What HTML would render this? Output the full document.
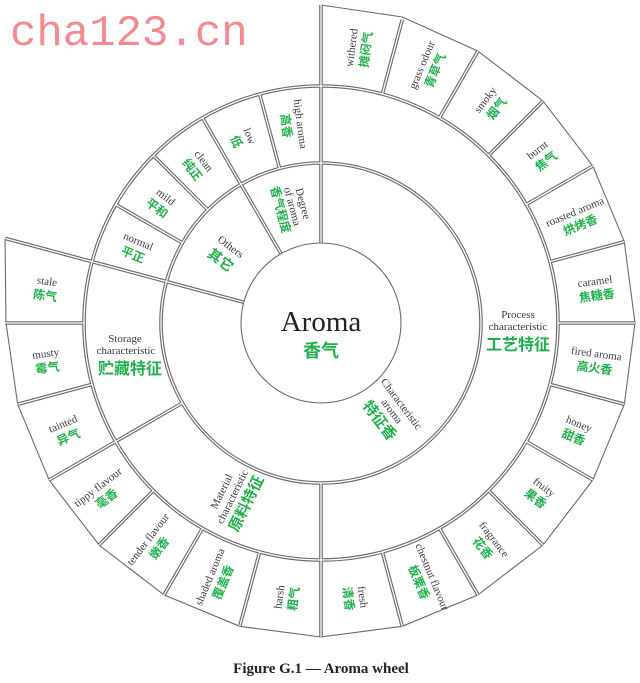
<!DOCTYPE html>
<html><head><meta charset="utf-8"><style>
html,body{margin:0;padding:0;background:#fff;}
svg{display:block;}
.en{font-family:"Liberation Serif",serif;font-size:11px;fill:#3a3a3a;text-anchor:middle;}
.zh{font-family:"Liberation Sans","Noto Sans CJK SC",sans-serif;font-size:12px;font-weight:bold;fill:#1fb04c;text-anchor:middle;}
.zb{font-family:"Liberation Sans","Noto Sans CJK SC",sans-serif;font-size:16px;font-weight:bold;fill:#1fb04c;text-anchor:middle;}
.dbl{fill:none;stroke:#6a6a6a;stroke-width:3.6;}
.dblw{fill:none;stroke:#fff;stroke-width:1.3;}
.sgl{fill:none;stroke:#6a6a6a;stroke-width:1.1;}
</style></head><body>
<svg width="640" height="683" viewBox="0 0 640 683" xmlns="http://www.w3.org/2000/svg">
<defs>
<g id="dl" fill="none">
<circle cx="321" cy="323" r="160"/>
<circle cx="321" cy="323" r="237"/>
<g transform="rotate(0 321 323)"><line x1="321" y1="243" x2="321" y2="5"/></g>
<g transform="rotate(15 321 323)"><line x1="321" y1="86" x2="321" y2="9"/></g>
<g transform="rotate(30 321 323)"><line x1="321" y1="86" x2="321" y2="9"/></g>
<g transform="rotate(45 321 323)"><line x1="321" y1="86" x2="321" y2="9"/></g>
<g transform="rotate(60 321 323)"><line x1="321" y1="86" x2="321" y2="9"/></g>
<g transform="rotate(75 321 323)"><line x1="321" y1="86" x2="321" y2="9"/></g>
<g transform="rotate(90 321 323)"><line x1="321" y1="86" x2="321" y2="9"/></g>
<g transform="rotate(105 321 323)"><line x1="321" y1="86" x2="321" y2="9"/></g>
<g transform="rotate(120 321 323)"><line x1="321" y1="86" x2="321" y2="9"/></g>
<g transform="rotate(135 321 323)"><line x1="321" y1="86" x2="321" y2="9"/></g>
<g transform="rotate(150 321 323)"><line x1="321" y1="86" x2="321" y2="9"/></g>
<g transform="rotate(165 321 323)"><line x1="321" y1="86" x2="321" y2="9"/></g>
<g transform="rotate(180 321 323)"><line x1="321" y1="163" x2="321" y2="9"/></g>
<g transform="rotate(195 321 323)"><line x1="321" y1="86" x2="321" y2="9"/></g>
<g transform="rotate(210 321 323)"><line x1="321" y1="86" x2="321" y2="9"/></g>
<g transform="rotate(225 321 323)"><line x1="321" y1="86" x2="321" y2="9"/></g>
<g transform="rotate(240 321 323)"><line x1="321" y1="163" x2="321" y2="9"/></g>
<g transform="rotate(255 321 323)"><line x1="321" y1="86" x2="321" y2="9"/></g>
<g transform="rotate(270 321 323)"><line x1="321" y1="86" x2="321" y2="7"/></g>
<g transform="rotate(285 321 323)"><line x1="321" y1="243" x2="321" y2="-4"/></g>
<g transform="rotate(300 321 323)"><line x1="321" y1="163" x2="321" y2="86"/></g>
<g transform="rotate(315 321 323)"><line x1="321" y1="163" x2="321" y2="86"/></g>
<g transform="rotate(330 321 323)"><line x1="321" y1="243" x2="321" y2="86"/></g>
<g transform="rotate(345 321 323)"><line x1="321" y1="163" x2="321" y2="86"/></g>
</g>
</defs>
<text x="10" y="45" style="font-family:'Liberation Mono',monospace;font-size:44px;fill:#f28a90">cha123.cn</text>

<path class="sgl" d="M321,5 L402.3,17 L478,51.1 L543,101 L592.9,166 L624.3,241.7 L635,323 L624.3,404.3 L592.9,480 L543,545 L478,594.9 L402.3,626.3 L321,637 L239.7,626.3 L164,594.9 L99,545 L49.1,480 L17.7,404.3 L6,323 L5,238.4"/>

<use href="#dl" class="dbl"/>
<use href="#dl" class="dblw"/>
<circle class="sgl" cx="321" cy="323" r="80" fill="#fff"/>

<text x="321" y="331" style="font-family:'Liberation Serif',serif;font-size:29px;fill:#222;text-anchor:middle">Aroma</text>
<text x="321" y="357" class="zb" style="font-size:18px">香气</text>

<text x="518" y="318" class="en">Process</text>
<text x="518" y="330" class="en">characteristic</text>
<text x="518" y="350" class="zb">工艺特征</text>
<text x="125" y="342" class="en">Storage</text>
<text x="126" y="354" class="en">characteristic</text>
<text x="130" y="374" class="zb">贮藏特征</text>

<g transform="translate(321,323) rotate(143) translate(0,-113) rotate(-90)">
<text x="0" y="-12" class="en">Characteristic</text>
<text x="0" y="0" class="en">aroma</text>
<text x="0" y="17" class="zb" style="font-size:15px">特征香</text>
</g>
<g transform="translate(321,323) rotate(206) translate(0,-195) rotate(90)">
<text x="0" y="-12" class="en">Material</text>
<text x="0" y="0" class="en">characteristic</text>
<text x="0" y="17" class="zb" style="font-size:15px">原料特征</text>
</g>
<g transform="translate(321,323) rotate(307) translate(0,-118) rotate(90)">
<text x="0" y="-3" class="en">Others</text>
<text x="0" y="15" class="zb" style="font-size:14px">其它</text>
</g>
<g transform="translate(321,323) rotate(345) translate(0,-120) rotate(90)">
<text x="0" y="-10" class="en">Degree</text>
<text x="0" y="1" class="en">of aroma</text>
<text x="0" y="14" class="zh">香气程度</text>
</g>

<g transform="translate(321,323) rotate(7.5) translate(0,-277) rotate(-90)"><text y="-2" class="en">withered</text><text y="13" class="zh">摊闷气</text></g>
<g transform="translate(321,323) rotate(22.5) translate(0,-277) rotate(-90)"><text y="-2" class="en">grass odour</text><text y="13" class="zh">青草气</text></g>
<g transform="translate(321,323) rotate(37.5) translate(0,-277) rotate(-90)"><text y="-2" class="en">smoky</text><text y="13" class="zh">烟气</text></g>
<g transform="translate(321,323) rotate(52.5) translate(0,-277) rotate(-90)"><text y="-2" class="en">burnt</text><text y="13" class="zh">焦气</text></g>
<g transform="translate(321,323) rotate(67.5) translate(0,-277) rotate(-90)"><text y="-2" class="en">roasted aroma</text><text y="13" class="zh">烘烤香</text></g>
<g transform="translate(321,323) rotate(82.5) translate(0,-277) rotate(-90)"><text y="-2" class="en">caramel</text><text y="13" class="zh">焦糖香</text></g>
<g transform="translate(321,323) rotate(97.5) translate(0,-277) rotate(-90)"><text y="-2" class="en">fired aroma</text><text y="13" class="zh">高火香</text></g>
<g transform="translate(321,323) rotate(112.5) translate(0,-277) rotate(-90)"><text y="-2" class="en">honey</text><text y="13" class="zh">甜香</text></g>
<g transform="translate(321,323) rotate(127.5) translate(0,-277) rotate(-90)"><text y="-2" class="en">fruity</text><text y="13" class="zh">果香</text></g>
<g transform="translate(321,323) rotate(142.5) translate(0,-277) rotate(-90)"><text y="-2" class="en">fragrance</text><text y="13" class="zh">花香</text></g>
<g transform="translate(321,323) rotate(157.5) translate(0,-277) rotate(-90)"><text y="-2" class="en">chestnut flavour</text><text y="13" class="zh">板栗香</text></g>
<g transform="translate(321,323) rotate(172.5) translate(0,-277) rotate(-90)"><text y="-2" class="en">fresh</text><text y="13" class="zh">清香</text></g>
<g transform="translate(321,323) rotate(187.5) translate(0,-277) rotate(90)"><text y="-2" class="en">harsh</text><text y="13" class="zh">粗气</text></g>
<g transform="translate(321,323) rotate(202.5) translate(0,-277) rotate(90)"><text y="-2" class="en">shaded aroma</text><text y="13" class="zh">覆盖香</text></g>
<g transform="translate(321,323) rotate(217.5) translate(0,-277) rotate(90)"><text y="-2" class="en">tender flavour</text><text y="13" class="zh">嫩香</text></g>
<g transform="translate(321,323) rotate(232.5) translate(0,-277) rotate(90)"><text y="-2" class="en">tippy flavour</text><text y="13" class="zh">毫香</text></g>
<g transform="translate(321,323) rotate(247.5) translate(0,-277) rotate(90)"><text y="-2" class="en">tainted</text><text y="13" class="zh">异气</text></g>
<g transform="translate(321,323) rotate(262.5) translate(0,-277) rotate(90)"><text y="-2" class="en">musty</text><text y="13" class="zh">霉气</text></g>
<g transform="translate(321,323) rotate(277.5) translate(0,-277) rotate(90)"><text y="-2" class="en">stale</text><text y="13" class="zh">陈气</text></g>
<g transform="translate(321,323) rotate(292.5) translate(0,-200) rotate(90)"><text y="-2" class="en">normal</text><text y="13" class="zh">平正</text></g>
<g transform="translate(321,323) rotate(307.5) translate(0,-200) rotate(90)"><text y="-2" class="en">mild</text><text y="13" class="zh">平和</text></g>
<g transform="translate(321,323) rotate(322.5) translate(0,-200) rotate(90)"><text y="-2" class="en">clean</text><text y="13" class="zh">纯正</text></g>
<g transform="translate(321,323) rotate(337.5) translate(0,-200) rotate(90)"><text y="-2" class="en">low</text><text y="13" class="zh">低</text></g>
<g transform="translate(321,323) rotate(352.5) translate(0,-200) rotate(90)"><text y="-2" class="en">high aroma</text><text y="13" class="zh">高香</text></g>

<text x="321" y="673" style="font-family:'Liberation Serif',serif;font-size:15px;font-weight:bold;fill:#222;text-anchor:middle">Figure G.1 — Aroma wheel</text>
</svg>
</body></html>
